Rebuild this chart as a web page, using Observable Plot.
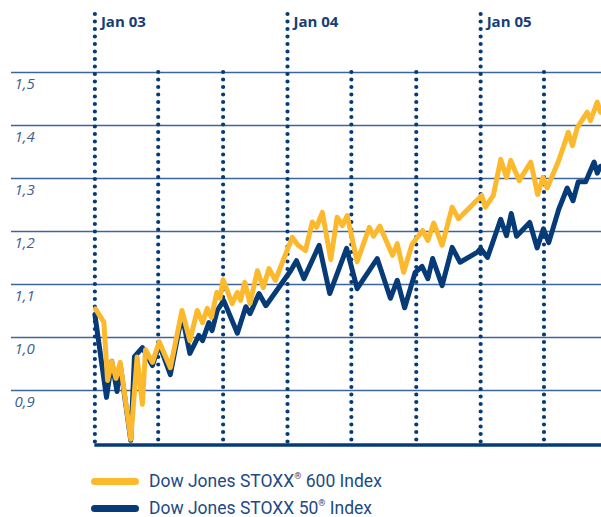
<!DOCTYPE html>
<html>
<head>
<meta charset="utf-8">
<script src="https://cdn.jsdelivr.net/npm/d3@7"></script>
<script src="https://cdn.jsdelivr.net/npm/@observablehq/plot@0.6"></script>
<style>
  body { margin: 0; background: #fff; font-family: "Open Sans", sans-serif; }
  #wrap { position: relative; width: 601px; height: 517px; }
  #chart svg { display: block; }
  .leg { position: absolute; left: 91px; height: 16px; display: flex; align-items: center; color: #1d4a86; font-family: Roboto, sans-serif; font-size: 17.5px; white-space: nowrap; }
  .leg span.t { display: block; height: 16px; line-height: 16px; }
  .sw { width: 48px; height: 7px; border-radius: 4px; margin-right: 10px; flex: none; }
  .leg sup { font-size: 9px; line-height: 0; position: relative; top: -1px; }
</style>
</head>
<body>
<div id="wrap">
  <div id="chart"></div>
  <div class="leg" id="leg1" style="top:473px"><div class="sw" style="background:#FDB92E"></div><span class="t">Dow Jones STOXX<sup>®</sup> 600 Index</span></div>
  <div class="leg" id="leg2" style="top:500px"><div class="sw" style="background:#063B78"></div><span class="t">Dow Jones STOXX 50<sup>®</sup> Index</span></div>
</div>
<script>
const yearTicks = ["2003-01-01", "2004-01-01", "2005-01-01"];
const yearLabels = ["Jan 03", "Jan 04", "Jan 05"];
const minorTicks = ["2003-05-01", "2003-09-01", "2004-05-01", "2004-09-01", "2005-05-01"];
const yTicks = [0.9, 1.0, 1.1, 1.2, 1.3, 1.4, 1.5];
const yLabels = ["0,9", "1,0", "1,1", "1,2", "1,3", "1,4", "1,5"];

const stoxx600Dates = ["2003-01-02","2003-01-18","2003-01-25","2003-02-02","2003-02-10","2003-02-18","2003-03-10","2003-03-22","2003-04-01","2003-04-07","2003-04-20","2003-05-03","2003-05-24","2003-06-15","2003-06-30","2003-07-14","2003-07-24","2003-08-02","2003-08-10","2003-08-20","2003-08-26","2003-09-01","2003-09-10","2003-09-18","2003-09-28","2003-10-04","2003-10-12","2003-10-22","2003-11-05","2003-11-16","2003-11-27","2003-12-09","2004-01-10","2004-01-21","2004-02-04","2004-02-17","2004-02-25","2004-03-07","2004-03-23","2004-04-04","2004-04-14","2004-04-23","2004-05-12","2004-06-04","2004-06-12","2004-06-24","2004-07-18","2004-07-27","2004-08-08","2004-08-24","2004-09-13","2004-09-23","2004-10-04","2004-10-20","2004-11-08","2004-11-20","2005-01-03","2005-01-10","2005-01-25","2005-02-08","2005-02-19","2005-02-27","2005-03-15","2005-04-06","2005-04-19","2005-04-29","2005-05-07","2005-05-29","2005-06-16","2005-06-24","2005-07-03","2005-07-22","2005-07-28","2005-08-10","2005-08-16"];
const stoxx600Values = [1.054,1.029,0.919,0.955,0.923,0.953,0.808,0.963,0.874,0.977,0.953,0.992,0.943,1.051,0.994,1.051,1.028,1.055,1.038,1.085,1.074,1.109,1.085,1.064,1.085,1.070,1.104,1.064,1.126,1.094,1.130,1.108,1.189,1.174,1.164,1.218,1.208,1.236,1.147,1.227,1.211,1.230,1.143,1.208,1.191,1.210,1.155,1.177,1.123,1.176,1.202,1.183,1.216,1.174,1.246,1.224,1.268,1.246,1.268,1.336,1.302,1.334,1.296,1.331,1.270,1.302,1.282,1.334,1.387,1.362,1.396,1.425,1.409,1.444,1.425];

const stoxx50Dates = ["2003-01-01","2003-01-23","2003-02-02","2003-02-12","2003-02-18","2003-03-10","2003-03-17","2003-04-01","2003-04-20","2003-05-03","2003-05-24","2003-06-15","2003-06-30","2003-07-17","2003-07-24","2003-08-05","2003-08-11","2003-08-21","2003-09-02","2003-09-28","2003-10-14","2003-10-22","2003-11-08","2003-11-21","2004-01-07","2004-01-18","2004-02-01","2004-03-01","2004-03-21","2004-04-22","2004-05-12","2004-06-19","2004-07-14","2004-07-27","2004-08-10","2004-08-30","2004-09-12","2004-09-23","2004-10-02","2004-10-20","2004-11-08","2004-11-23","2004-12-26","2005-01-01","2005-01-14","2005-02-08","2005-02-19","2005-02-28","2005-03-10","2005-04-04","2005-04-18","2005-04-30","2005-05-10","2005-05-29","2005-06-14","2005-06-25","2005-07-05","2005-07-19","2005-08-04","2005-08-10","2005-08-16"];
const stoxx50Values = [1.043,0.887,0.955,0.898,0.949,0.806,0.964,0.981,0.947,0.987,0.930,1.043,0.970,1.004,0.994,1.028,1.013,1.051,1.070,1.008,1.058,1.045,1.083,1.060,1.126,1.145,1.111,1.174,1.083,1.168,1.092,1.149,1.074,1.108,1.056,1.123,1.134,1.111,1.149,1.098,1.170,1.142,1.161,1.168,1.151,1.223,1.192,1.234,1.191,1.217,1.169,1.205,1.179,1.242,1.282,1.258,1.294,1.294,1.331,1.310,1.323];

const parse = d3.utcParse("%Y-%m-%d");
const s600 = stoxx600Dates.map((d, i) => ({date: parse(d), value: stoxx600Values[i]}));
const s50 = stoxx50Dates.map((d, i) => ({date: parse(d), value: stoxx50Values[i]}));
const years = yearTicks.map(parse);
const minors = minorTicks.map(parse);

const xStart = parse("2002-07-27");
const xEnd = parse("2005-08-18");
const navy = "#063B78";
const orange = "#FDB92E";
const gridColor = "#3d659b";

const chart = Plot.plot({
  width: 601,
  height: 455,
  marginLeft: 11,
  marginRight: 0,
  marginTop: 14,
  marginBottom: 12,
  x: {type: "utc", domain: [xStart, xEnd], axis: null},
  y: {domain: [0.8, 1.6094], axis: null},
  style: {fontFamily: "Open Sans, sans-serif", background: "#fff"},
  marks: [
    Plot.ruleY(yTicks, {stroke: gridColor, strokeWidth: 1.3}),
    Plot.text(yTicks, {x: () => xStart, y: d => d, text: (d, i) => yLabels[i], textAnchor: "start", dx: 3, dy: 12, fontSize: 15, fontStyle: "italic", fill: "#3a5f94"}),
    Plot.ruleX(years, {x: d => d, stroke: navy, strokeWidth: 4.2, strokeDasharray: "0,7.5", strokeLinecap: "round"}),
    Plot.ruleX(minors, {x: d => d, y1: 1.5, y2: 0.8, stroke: navy, strokeWidth: 4.2, strokeDasharray: "0,7.5", strokeLinecap: "round"}),
    Plot.text(years, {x: d => d, frameAnchor: "top", text: (d, i) => yearLabels[i], textAnchor: "start", lineAnchor: "middle", dx: 6, dy: 8, fontSize: 15, fontWeight: "bold", fill: "#163e75"}),
    Plot.ruleY([0.8], {x1: () => years[0], x2: () => xEnd, dy: 1.5, stroke: navy, strokeWidth: 3.5}),
    Plot.line(s50, {x: "date", y: "value", stroke: navy, strokeWidth: 5, strokeLinejoin: "round", strokeLinecap: "round"}),
    Plot.line(s600, {x: "date", y: "value", stroke: orange, strokeWidth: 5, strokeLinejoin: "round", strokeLinecap: "round"})
  ]
});
document.getElementById("chart").appendChild(chart);
</script>
</body>
</html>
